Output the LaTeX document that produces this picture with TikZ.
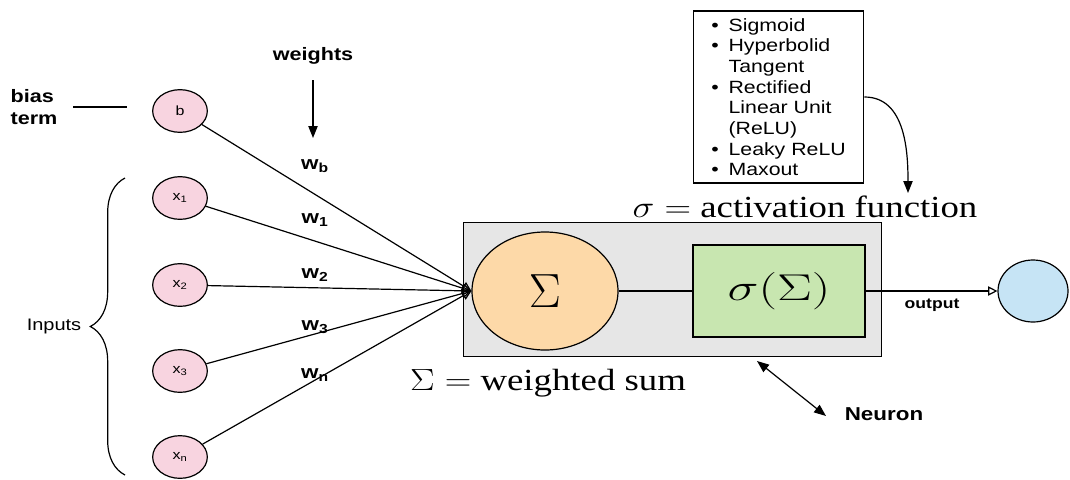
\RequirePackage{fix-cm}
\documentclass[tikz,border=0pt]{standalone}
\usepackage{amsmath}
\usepackage{fontspec}
\usepackage{graphicx}
\usepackage{tikz}
\usetikzlibrary{arrows.meta,shapes.geometric,decorations.pathreplacing}
\setsansfont{Liberation Sans}[FakeStretch=1.2]
\newfontfamily\serifface{Liberation Serif}

\definecolor{inpink}{RGB}{248,212,224}
\definecolor{sumorange}{RGB}{253,217,168}
\definecolor{actgreen}{RGB}{200,230,176}
\definecolor{boxgray}{RGB}{230,230,230}
\definecolor{outblue}{RGB}{198,228,245}

\newcommand{\itm}[1]{\makebox[13pt][l]{\textbullet}#1}
\newcommand{\cnt}[1]{\hspace{13pt}#1}

\begin{document}
\begin{tikzpicture}[x=0.75pt, y=-0.75pt, line width=0.9pt, font=\sffamily,
        boldlbl/.style={font=\sffamily\bfseries\fontsize{13.5}{16.5}\selectfont},
        wlbl/.style={font=\sffamily\bfseries\fontsize{14}{16}\selectfont, inner sep=1pt},
        bigtxt/.style={font=\serifface\fontsize{23}{27}\selectfont}]
        \useasboundingbox (0,0) rectangle (1070,479);

        \node[boldlbl, align=left] (T) at (34,107) {bias\\term};
        \node[font=\sffamily\fontsize{12.5}{15}\selectfont] (I) at (54,326) {Inputs};
        \node[boldlbl] (W) at (313,56) {weights};
        \coordinate (WT) at (313,138);

        \begin{scope}[every node/.style={ellipse, draw, fill=inpink, inner sep=0pt,
                minimum width=41pt, minimum height=32pt,
                font=\sffamily\fontsize{10}{12}\selectfont}]
            \node (B)  at (180,111) {b};
            \node (X1) at (180,198) {x\textsubscript{1}};
            \node (X2) at (180,285) {x\textsubscript{2}};
            \node (X3) at (180,371) {x\textsubscript{3}};
            \node (XN) at (180,457) {x\textsubscript{n}};
        \end{scope}

        \node[draw, fill=boxgray, minimum width=314pt, minimum height=101pt] (N) at (672.5,289.5) {};
        \node[ellipse, draw, fill=sumorange, minimum width=109.5pt, minimum height=88.5pt] (S) at (545,291)
            {\fontsize{36}{40}\selectfont$\Sigma$};
        \node[draw, fill=actgreen, minimum width=129pt, minimum height=69pt] (A) at (779,291)
            {\scalebox{1.4}[1]{\fontsize{28}{32}\selectfont$\sigma(\Sigma)$}};
        \node[ellipse, draw, fill=outblue, minimum width=52.5pt, minimum height=46.5pt] (O) at (1033,291) {};

        \node[draw, minimum width=128pt, minimum height=129pt, align=left,
            font=\sffamily\fontsize{13.3}{15.5}\selectfont] (L) at (778.5,97)
            {\itm{Sigmoid}\\\itm{Hyperbolid}\\\cnt{Tangent}\\\itm{Rectified}\\\cnt{Linear Unit}\\\cnt{(ReLU)}\\\itm{Leaky ReLU}\\\itm{Maxout}};

        \node[bigtxt] (AL) at (805,207) {\scalebox{1.2}[1]{$\sigma =$ activation function}};
        \node[bigtxt] (SL) at (548,383) {\scalebox{1.2}[1]{$\Sigma =$ weighted sum}};
        \node[font=\sffamily\bfseries\fontsize{11}{13}\selectfont] (OL) at (932,305) {output};
        \node[font=\sffamily\bfseries\fontsize{14}{16}\selectfont] (NL) at (884,414) {Neuron};
        \coordinate (AT) at (908,193);
        \coordinate (NB) at (757,361);
        \coordinate (NE) at (826,416);
        \coordinate (BT) at (125,178);
        \coordinate (BB) at (125,475);

        \node[wlbl] (Wb) at (315,166) {w\textsubscript{b}};
        \node[wlbl] (W1) at (315,220) {w\textsubscript{1}};
        \node[wlbl] (W2) at (315,275) {w\textsubscript{2}};
        \node[wlbl] (W3) at (315,327) {w\textsubscript{3}};
        \node[wlbl] (Wn) at (315,375) {w\textsubscript{n}};

        \begin{scope}[every edge/.style={draw, -{Triangle[open, length=7pt, width=7pt]}}]
            \path (B)  edge (S.west);
            \path (X1) edge (S.west);
            \path (X2) edge (S.west);
            \path (X3) edge (S.west);
            \path (XN) edge (S.west);
            \path (A)  edge (O);
        \end{scope}

        \draw[shorten <=8pt, shorten >=19pt] (T.east) -- (B.west |- T.east);
        \draw[decorate, decoration={brace, amplitude=26pt}] (BB) -- (BT);
        \draw[-{Triangle[length=9pt, width=7pt]}] ([yshift=-8pt]W.south) -- (WT);
        \draw (S) -- (A);
        \draw[-{Triangle[length=9pt, width=7pt]}] (L.east) to[out=0, in=90] (AT);
        \draw[{Triangle[length=9pt, width=7pt]}-{Triangle[length=9pt, width=7pt]}] (NB) -- (NE);
    \end{tikzpicture}
\end{document}
